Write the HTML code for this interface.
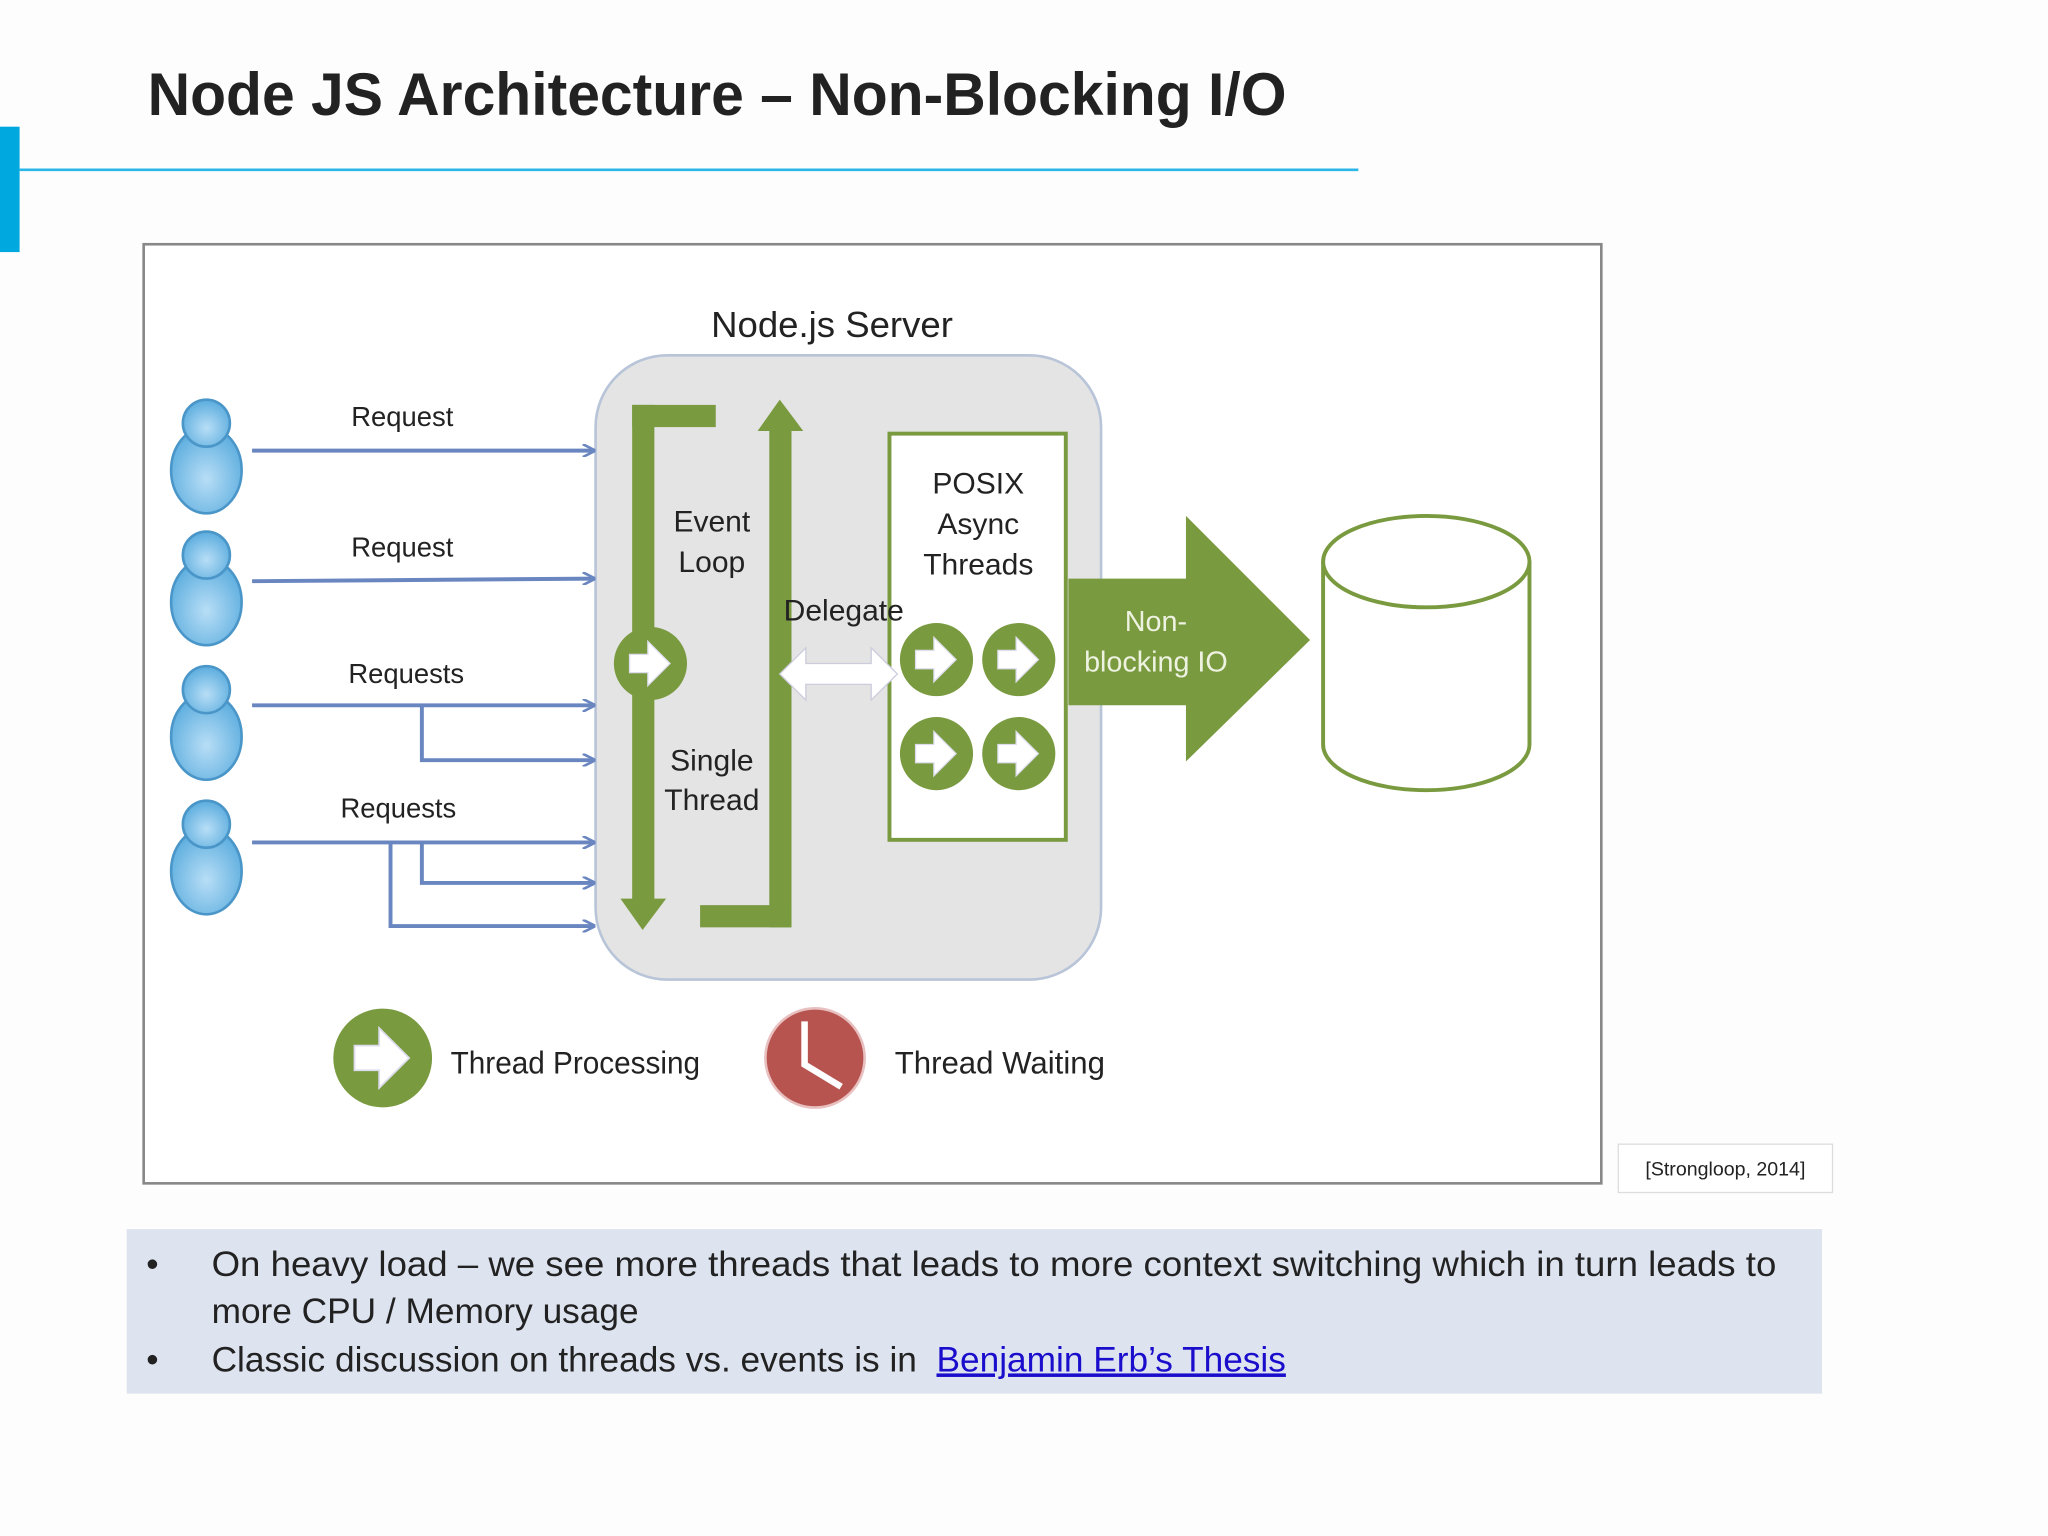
<!DOCTYPE html>
<html><head><meta charset="utf-8"><style>
html,body{margin:0;padding:0;background:#fdfdfd;}
svg{display:block}
</style></head><body>
<svg width="2048" height="1536" viewBox="0 0 1568 1176" preserveAspectRatio="none" xmlns="http://www.w3.org/2000/svg" font-family="Liberation Sans, sans-serif">
<defs>
<marker id="ah" markerWidth="10" markerHeight="10" refX="9" refY="5" orient="auto" markerUnits="userSpaceOnUse"><path d="M0,0 L10,5 L0,10" fill="none" stroke="#6a86c0" stroke-width="2"/></marker>
<radialGradient id="ug" cx="0.5" cy="0.6" r="0.6"><stop offset="0" stop-color="#b8def6"/><stop offset="1" stop-color="#5aacde"/></radialGradient>
<g id="user"><ellipse cx="0" cy="18" rx="27" ry="33" fill="url(#ug)" stroke="#4a96c8" stroke-width="2"/><circle cx="0" cy="-18" r="18" fill="url(#ug)" stroke="#4a96c8" stroke-width="2"/></g>
<g id="gc"><circle r="28" fill="#7a9a40"/><path d="M-16,-7 h14 v-10 l17,17 -17,17 v-10 h-14z" fill="#fff" stroke="#dde" stroke-width="1"/></g>
</defs>
<rect width="1568" height="1176" fill="#fdfdfd"/>
<text x="113" y="88" font-size="46" font-weight="bold" fill="#222" textLength="872" lengthAdjust="spacingAndGlyphs">Node JS Architecture – Non-Blocking I/O</text>
<rect x="0" y="97" width="15" height="96" fill="#00a8e0"/>
<line x1="15" y1="130" x2="1040" y2="130" stroke="#29b6e8" stroke-width="2"/>
<rect x="110" y="187" width="1116" height="719" fill="#fff" stroke="#888" stroke-width="2"/>
<text x="637" y="258" font-size="28" text-anchor="middle" fill="#222">Node.js Server</text>
<rect x="456" y="272" width="387" height="478" rx="55" fill="#e4e4e4" stroke="#b8c4d8" stroke-width="2"/>
<g fill="#7a9a40">
<rect x="484" y="310" width="64" height="17"/>
<rect x="484" y="310" width="17" height="380"/>
<polygon points="475,688 510,688 492,712"/>
<rect x="589" y="328" width="17" height="382"/>
<polygon points="580,330 615,330 597,306"/>
<rect x="536" y="693" width="70" height="17"/>
</g>
<g font-size="23" fill="#222" text-anchor="middle">
<text x="545" y="407">Event</text><text x="545" y="438">Loop</text>
<text x="545" y="590">Single</text><text x="545" y="620">Thread</text>
</g>
<use href="#gc" x="498" y="508"/>
<rect x="681" y="332" width="135" height="311" fill="#fff" stroke="#7a9a40" stroke-width="3"/>
<g font-size="23" fill="#222" text-anchor="middle"><text x="749" y="378">POSIX</text><text x="749" y="409">Async</text><text x="749" y="440">Threads</text>
<text x="646" y="475">Delegate</text></g>
<polygon points="597,516 617,496 617,508 667,508 667,496 687,516 667,536 667,524 617,524 617,536" fill="#fff" stroke="#ccd" stroke-width="1"/>
<use href="#gc" x="717" y="505"/><use href="#gc" x="780" y="505"/>
<use href="#gc" x="717" y="577"/><use href="#gc" x="780" y="577"/>
<polygon points="818,443 908,443 908,395 1003,490 908,583 908,540 818,540" fill="#7a9a40"/>
<g font-size="22" fill="#eef2e0" text-anchor="middle"><text x="885" y="483">Non-</text><text x="885" y="514">blocking IO</text></g>
<path d="M1013,430 V570 A79,35 0 0 0 1171,570 V430" fill="#fff" stroke="#7a9a40" stroke-width="3"/>
<ellipse cx="1092" cy="430" rx="79" ry="35" fill="#fff" stroke="#7a9a40" stroke-width="3"/>
<use href="#user" x="158" y="342"/><use href="#user" x="158" y="443"/><use href="#user" x="158" y="546"/><use href="#user" x="158" y="649"/>
<g stroke="#6a86c0" stroke-width="3" fill="none" marker-end="url(#ah)">
<line x1="193" y1="345" x2="455" y2="345"/>
<line x1="193" y1="445" x2="455" y2="443"/>
<line x1="193" y1="540" x2="455" y2="540"/>
<polyline points="323,540 323,582 455,582"/>
<line x1="193" y1="645" x2="455" y2="645"/>
<polyline points="323,645 323,676 455,676"/>
<polyline points="299,645 299,709 455,709"/>
</g>
<g font-size="21" fill="#222" text-anchor="middle">
<text x="308" y="326">Request</text><text x="308" y="426">Request</text>
<text x="311" y="523">Requests</text><text x="305" y="626">Requests</text>
</g>
<g transform="translate(293,810) scale(1.35)"><use href="#gc"/></g>
<text x="345" y="822" font-size="24" fill="#222" textLength="191" lengthAdjust="spacingAndGlyphs">Thread Processing</text>
<circle cx="624" cy="810" r="38" fill="#b85450" stroke="#e8c0c0" stroke-width="2"/>
<polyline points="616,782 616,815 644,832" fill="none" stroke="#fff" stroke-width="5"/>
<text x="685" y="822" font-size="24" fill="#222" textLength="161" lengthAdjust="spacingAndGlyphs">Thread Waiting</text>
<rect x="1239" y="876" width="164" height="37" fill="#fff" stroke="#ddd"/>
<text x="1321" y="900" font-size="15" text-anchor="middle" fill="#222">[Strongloop, 2014]</text>
<rect x="97" y="941" width="1298" height="126" fill="#dde4f0"/>
<g font-size="27" fill="#222">
<text x="112" y="977">•</text><text x="162" y="977" textLength="1198" lengthAdjust="spacingAndGlyphs">On heavy load – we see more threads that leads to more context switching which in turn leads to</text>
<text x="162" y="1013">more CPU / Memory usage</text>
<text x="112" y="1050">•</text><text x="162" y="1050">Classic discussion on threads vs. events is in</text>
<text x="717" y="1050" fill="#1a0dcc" text-decoration="underline">Benjamin Erb’s Thesis</text>
</g>
</svg>
</body></html>
